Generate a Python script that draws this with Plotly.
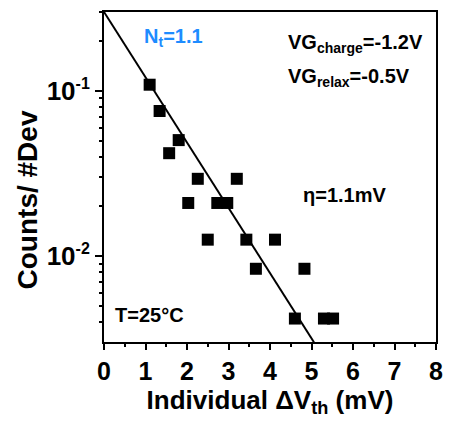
import plotly.graph_objects as go
import math

# Data
dvth = [1.10, 1.34, 1.57, 1.80, 2.03, 2.26, 2.50, 2.73, 2.97, 3.20, 3.43, 3.66, 4.12, 4.60, 4.83, 5.30, 5.52]
counts = [0.109, 0.0756, 0.042, 0.0504, 0.021, 0.0294, 0.0126, 0.021, 0.021, 0.0294, 0.0126, 0.0084, 0.0126, 0.0042, 0.0084, 0.0042, 0.0042]
fit_x = [0.0, 5.06]
fit_y = [0.300, 0.00302]

x_ticks = [0, 1, 2, 3, 4, 5, 6, 7, 8]
x_ticktext = ["<b>%d</b>" % v for v in x_ticks]
y_ticks = [0.01, 0.1]
y_ticktext = ["<b>10<sup><span style='font-size:16px'>-2</span></sup></b>",
              "<b>10<sup><span style='font-size:16px'>-1</span></sup></b>"]
y_minor = [m * d for d in (0.001, 0.01, 0.1) for m in range(2, 10)]

FONT = "Liberation Sans, Arial, sans-serif"

fig = go.Figure()
fig.add_trace(go.Scatter(x=fit_x, y=fit_y, mode="lines",
                         line=dict(color="black", width=2), showlegend=False, cliponaxis=True))
fig.add_trace(go.Scatter(x=dvth, y=counts, mode="markers",
                         marker=dict(symbol="square", size=12, color="black"),
                         showlegend=False, cliponaxis=False))

fig.update_layout(
    width=453, height=424,
    margin=dict(l=104, r=10, t=10, b=82),
    paper_bgcolor="white", plot_bgcolor="white",
    font=dict(family=FONT, color="black", size=20, weight="bold"),
    xaxis=dict(range=[0, 8], tickmode="array", tickvals=x_ticks, ticktext=x_ticktext,
               ticks="outside", ticklen=6, tickwidth=2, tickcolor="black",
               showline=True, linewidth=2, linecolor="black", mirror=True,
               showgrid=False, zeroline=False,
               tickfont=dict(size=25, family=FONT, weight="bold"),
               minor=dict(dtick=0.5, ticks="outside", ticklen=3, tickwidth=2, tickcolor="black", showgrid=False),
               title=dict(text="<b>Individual \u0394V<sub>th</sub> (mV)</b>", font=dict(size=26, family=FONT, weight="bold"), standoff=3)),
    yaxis=dict(type="log", range=[math.log10(0.00303), math.log10(0.3)],
               tickmode="array", tickvals=y_ticks, ticktext=y_ticktext,
               ticks="outside", ticklen=7, tickwidth=2, tickcolor="black",
               showline=True, linewidth=2, linecolor="black", mirror=True,
               showgrid=False, zeroline=False,
               tickfont=dict(size=26, family=FONT, weight="bold"),
               ticklabelstandoff=0,
               minor=dict(tickmode="array", tickvals=y_minor, ticks="outside", ticklen=3, tickwidth=2, tickcolor="black", showgrid=False)),
)

def px_to_paper(px, py):
    return ((px - 104) / (443 - 104), 1 - (py - 10) / (342 - 10))

def ann(text, px, py, color="black", size=20, xanchor="left", angle=0):
    x, y = px_to_paper(px, py)
    fig.add_annotation(text=text, x=x, y=y, xref="paper", yref="paper",
                       xanchor=xanchor, yanchor="middle", showarrow=False, textangle=angle,
                       font=dict(size=size, color=color, family=FONT, weight="bold"))

# y-axis title
ann("<b>Counts/ #Dev</b>", 26, 199, size=28, xanchor="center", angle=-90)

ann("<b>N<sub>t</sub>=1.1</b>", 143, 36, color="#1E8CFF")
ann("<b>VG<sub>charge</sub>=-1.2V</b>", 290, 42)
ann("<b>VG<sub>relax</sub>=-0.5V</b>", 290, 76)
ann("<b>\u03b7=1.1mV</b>", 305, 194)
ann("<b>T=25°C</b>", 113, 315)

fig.write_html("out.html")
